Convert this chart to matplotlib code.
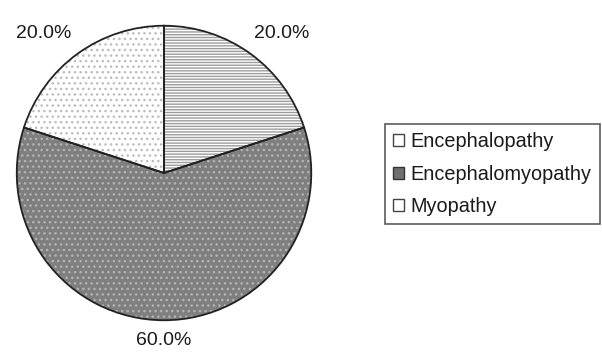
import matplotlib
matplotlib.use("Agg")
import matplotlib.pyplot as plt
from matplotlib.patches import Patch

plt.rcParams['font.family'] = ['Liberation Sans', 'DejaVu Sans']

categories = ["Encephalopathy", "Encephalomyopathy", "Myopathy"]
values = [20.0, 60.0, 20.0]

faces = ["white", "#7f7f7f", "white"]
hatch_colors = ["#9c9c9c", "#b4b4b4", "#bdbdbd"]
hatches = ["------", "...", "..."]

fig = plt.figure(figsize=(6.02, 3.52), dpi=100)
ax = fig.add_axes([0.0266, 0.0881, 0.4917, 0.8409])

# hatched fills
wedges, _ = ax.pie(values, startangle=90, counterclock=False,
                   colors=faces, radius=1.0,
                   wedgeprops=dict(linewidth=0))
for w, hc, h in zip(wedges, hatch_colors, hatches):
    w.set_edgecolor(hc)
    w.set_hatch(h)
    w.set_linewidth(0)

# outlines and percentage labels
outl, texts, autotexts = ax.pie(values, startangle=90, counterclock=False,
                                radius=1.0, autopct='%1.1f%%',
                                pctdistance=1.2,
                                wedgeprops=dict(fill=False, edgecolor="#222222",
                                                linewidth=1.3))
label_pos = [(0.80, 0.946), (0.0, -1.135), (-0.82, 0.946)]
for t, (x, y) in zip(autotexts, label_pos):
    t.set_position((x, y))
    t.set_fontsize(14)
    t.set_color("#1a1a1a")
    t.set_ha("center")
    t.set_va("center")
ax.set_xlim(-1.005, 1.005)
ax.set_ylim(-1.005, 1.005)
ax.set_aspect('auto')

handles = [Patch(facecolor="white", edgecolor="#444444", linewidth=1.0),
           Patch(facecolor="#6f6f6f", edgecolor="#333333", linewidth=1.0),
           Patch(facecolor="white", edgecolor="#444444", linewidth=1.0)]
leg = fig.legend(handles, categories, loc="upper left",
                 bbox_to_anchor=(385 / 602, 1 - 124 / 352),
                 frameon=True, fancybox=False, fontsize=14.3,
                 handlelength=0.55, handleheight=0.55, handletextpad=0.3,
                 borderpad=0.42, labelspacing=0.67, borderaxespad=0)
leg.get_frame().set_edgecolor("#333333")
leg.get_frame().set_linewidth(1.2)
for t in leg.get_texts():
    t.set_color("#1a1a1a")

fig.savefig("out.png", dpi=100)
